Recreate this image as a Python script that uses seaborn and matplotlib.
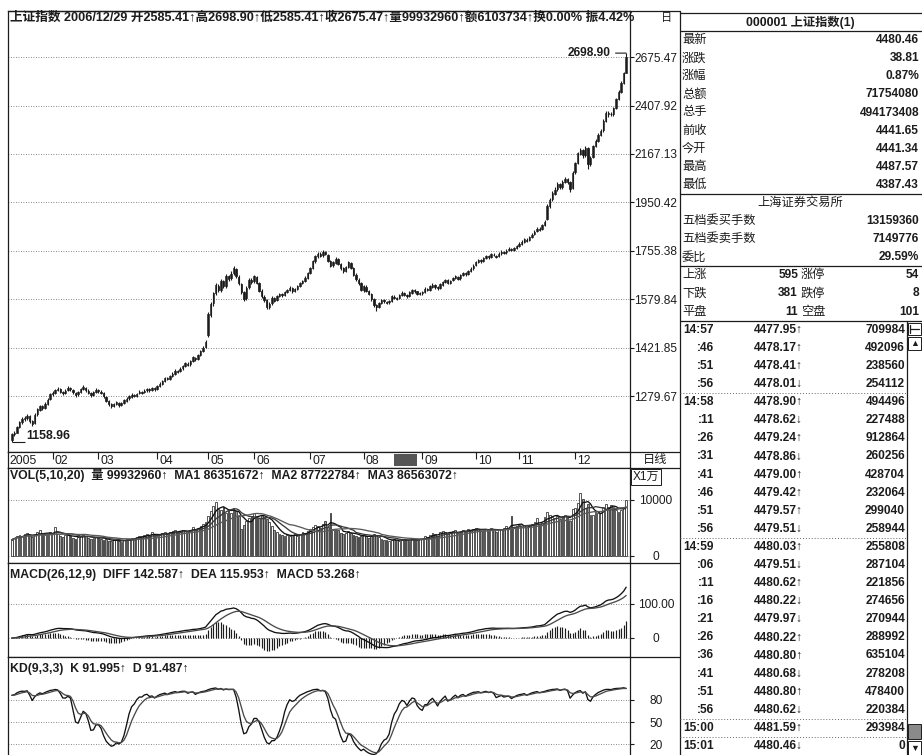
import numpy as np
import pandas as pd
import seaborn as sns
import matplotlib.pyplot as plt
import matplotlib.ticker as mticker
from matplotlib.patches import Rectangle

sns.set_style('white')
plt.rcParams['font.family'] = ['Liberation Sans', 'Noto Sans CJK SC', 'DejaVu Sans']
plt.rcParams['axes.unicode_minus'] = False

# ---------------- data (2006 daily bars) ----------------
month_labels = ['2005', '02', '03', '04', '05', '06', '07', '08', '09', '10', '11', '12']
month_days = [16, 18, 23, 20, 18, 22, 21, 23, 21, 17, 22, 21]

opens = [
    1163, 1178, 1182, 1197, 1209, 1217, 1220, 1225, 1211, 1206, 1230, 1242, 1251, 1247, 1259, 1271,
    1286, 1289, 1297, 1299, 1291, 1288, 1296, 1301, 1297, 1289, 1284, 1292, 1299, 1303, 1295, 1287, 1283, 1292,
    1296, 1292, 1287, 1278, 1265, 1257, 1253, 1258, 1261, 1256, 1261, 1267, 1273, 1278, 1282, 1281, 1287, 1291, 1290, 1296, 1298, 1297, 1301,
    1300, 1309, 1314, 1323, 1330, 1329, 1337, 1343, 1351, 1350, 1359, 1366, 1373, 1371, 1382, 1391, 1387, 1399, 1411, 1423,
    1460, 1528, 1566, 1601, 1626, 1611, 1644, 1626, 1661, 1653, 1671, 1688, 1659, 1634, 1604, 1583, 1621, 1647,
    1642, 1659, 1637, 1609, 1589, 1577, 1554, 1566, 1584, 1576, 1591, 1597, 1594, 1606, 1611, 1619, 1609, 1616, 1626, 1636, 1643, 1656,
    1673, 1691, 1715, 1735, 1744, 1738, 1749, 1741, 1717, 1701, 1711, 1724, 1705, 1689, 1681, 1694, 1711, 1689, 1666, 1649, 1635,
    1612, 1624, 1609, 1597, 1579, 1559, 1554, 1567, 1577, 1571, 1569, 1575, 1589, 1584, 1583, 1594, 1601, 1595, 1591, 1603, 1611, 1607, 1597,
    1602, 1605, 1616, 1613, 1624, 1629, 1621, 1619, 1631, 1641, 1647, 1637, 1646, 1654, 1659, 1653, 1664, 1671, 1669, 1681, 1689,
    1703, 1713, 1719, 1717, 1729, 1734, 1731, 1741, 1737, 1734, 1746, 1751, 1749, 1757, 1761, 1759, 1767,
    1775, 1783, 1791, 1799, 1796, 1809, 1819, 1831, 1841, 1839, 1856, 1880, 1936, 1963, 1988, 2006, 2029, 2016, 2041, 2051, 2037, 2012,
    2082, 2126, 2169, 2184, 2161, 2194, 2121, 2151, 2204, 2231, 2259, 2281, 2329, 2369, 2366, 2363, 2396, 2441, 2481, 2531, 2585.41,
]
highs = [
    1181, 1185, 1199, 1212, 1222, 1226, 1230, 1228, 1215, 1232, 1247, 1256, 1254, 1262, 1274, 1289,
    1294, 1300, 1306, 1303, 1295, 1298, 1307, 1305, 1300, 1292, 1295, 1303, 1310, 1306, 1298, 1291, 1295, 1301,
    1300, 1296, 1290, 1281, 1269, 1261, 1260, 1266, 1264, 1263, 1271, 1276, 1282, 1287, 1285, 1289, 1296, 1295, 1298, 1303, 1301, 1306, 1304,
    1311, 1318, 1326, 1335, 1334, 1339, 1347, 1356, 1355, 1362, 1370, 1379, 1377, 1385, 1397, 1394, 1402, 1414, 1427, 1445,
    1535, 1570, 1606, 1635, 1632, 1650, 1648, 1668, 1666, 1678, 1698, 1692, 1664, 1638, 1610, 1625, 1653, 1655,
    1665, 1663, 1641, 1614, 1595, 1582, 1570, 1590, 1589, 1594, 1603, 1601, 1609, 1616, 1625, 1623, 1619, 1630, 1639, 1647, 1660, 1676,
    1695, 1720, 1740, 1752, 1749, 1757, 1755, 1745, 1722, 1716, 1730, 1729, 1710, 1694, 1699, 1717, 1714, 1693, 1671, 1654, 1640,
    1630, 1628, 1613, 1601, 1584, 1565, 1570, 1582, 1581, 1575, 1578, 1594, 1593, 1588, 1599, 1607, 1605, 1598, 1608, 1616, 1615, 1610, 1605,
    1609, 1621, 1620, 1629, 1635, 1633, 1625, 1636, 1645, 1652, 1650, 1649, 1659, 1664, 1662, 1669, 1677, 1675, 1684, 1693, 1704,
    1718, 1726, 1724, 1733, 1740, 1739, 1747, 1746, 1741, 1750, 1757, 1756, 1761, 1768, 1766, 1771, 1779,
    1788, 1796, 1806, 1804, 1813, 1823, 1836, 1848, 1847, 1861, 1876, 1942, 1971, 1998, 2015, 2038, 2036, 2047, 2060, 2058, 2044, 2086,
    2130, 2178, 2196, 2190, 2205, 2198, 2158, 2212, 2240, 2268, 2290, 2338, 2380, 2378, 2372, 2402, 2448, 2490, 2540, 2592, 2698.90,
]
lows = [
    1158.96, 1172, 1180, 1193, 1204, 1212, 1215, 1208, 1199, 1203, 1226, 1238, 1242, 1244, 1255, 1268,
    1281, 1285, 1293, 1288, 1282, 1285, 1293, 1294, 1286, 1278, 1281, 1289, 1296, 1292, 1284, 1278, 1280, 1288,
    1288, 1284, 1275, 1262, 1252, 1246, 1249, 1255, 1250, 1252, 1258, 1264, 1270, 1275, 1276, 1278, 1284, 1285, 1287, 1292, 1292, 1294, 1295,
    1297, 1305, 1310, 1319, 1324, 1325, 1333, 1340, 1344, 1347, 1355, 1362, 1365, 1367, 1378, 1381, 1383, 1395, 1407, 1420,
    1455, 1520, 1558, 1595, 1604, 1606, 1620, 1620, 1645, 1648, 1665, 1655, 1628, 1598, 1572, 1578, 1616, 1634,
    1636, 1632, 1604, 1584, 1570, 1545, 1548, 1561, 1570, 1572, 1586, 1588, 1590, 1602, 1607, 1603, 1604, 1612, 1622, 1632, 1640, 1651,
    1668, 1686, 1710, 1728, 1731, 1733, 1738, 1714, 1695, 1696, 1707, 1702, 1684, 1674, 1676, 1690, 1686, 1662, 1644, 1630, 1608,
    1606, 1606, 1594, 1575, 1554, 1541, 1550, 1562, 1568, 1563, 1564, 1571, 1580, 1577, 1579, 1590, 1592, 1585, 1587, 1599, 1603, 1594, 1593,
    1596, 1601, 1607, 1609, 1620, 1617, 1613, 1615, 1627, 1636, 1632, 1633, 1642, 1650, 1648, 1649, 1660, 1663, 1665, 1677, 1685,
    1698, 1709, 1711, 1713, 1724, 1726, 1727, 1734, 1729, 1730, 1741, 1744, 1745, 1753, 1754, 1755, 1763,
    1770, 1778, 1787, 1790, 1792, 1805, 1815, 1827, 1832, 1835, 1851, 1875, 1928, 1955, 1980, 2000, 2008, 2010, 2036, 2030, 1996, 2008,
    2075, 2118, 2160, 2150, 2155, 2098, 2110, 2148, 2198, 2225, 2252, 2275, 2322, 2350, 2352, 2356, 2390, 2435, 2475, 2525, 2585.41,
]
closes = [
    1178, 1182, 1197, 1209, 1218, 1220, 1226, 1212, 1205, 1229, 1243, 1252, 1248, 1258, 1270, 1285,
    1289, 1296, 1300, 1292, 1287, 1295, 1302, 1298, 1290, 1283, 1291, 1299, 1304, 1296, 1288, 1282, 1291, 1297,
    1293, 1288, 1279, 1266, 1258, 1252, 1257, 1262, 1255, 1260, 1268, 1272, 1279, 1283, 1280, 1286, 1292, 1289, 1295, 1299, 1296, 1302, 1299,
    1308, 1315, 1322, 1331, 1328, 1336, 1343, 1352, 1349, 1358, 1366, 1374, 1370, 1381, 1392, 1386, 1398, 1410, 1422, 1440,
    1530, 1565, 1600, 1628, 1612, 1645, 1625, 1662, 1652, 1670, 1690, 1660, 1635, 1605, 1582, 1620, 1648, 1641,
    1660, 1638, 1610, 1590, 1578, 1553, 1565, 1585, 1575, 1590, 1598, 1593, 1605, 1612, 1620, 1608, 1615, 1625, 1635, 1642, 1655, 1672,
    1690, 1716, 1734, 1745, 1737, 1750, 1742, 1718, 1700, 1712, 1725, 1706, 1690, 1680, 1695, 1712, 1690, 1667, 1650, 1636, 1613,
    1625, 1610, 1598, 1580, 1560, 1553, 1566, 1578, 1572, 1568, 1574, 1590, 1585, 1582, 1595, 1602, 1596, 1590, 1604, 1612, 1608, 1598, 1601,
    1604, 1617, 1612, 1625, 1630, 1622, 1618, 1632, 1640, 1648, 1636, 1645, 1655, 1660, 1652, 1665, 1672, 1668, 1680, 1688, 1700,
    1712, 1720, 1716, 1728, 1735, 1730, 1742, 1738, 1733, 1745, 1752, 1748, 1756, 1762, 1758, 1766, 1774,
    1782, 1790, 1800, 1795, 1808, 1818, 1830, 1842, 1838, 1855, 1870, 1935, 1962, 1990, 2005, 2030, 2015, 2040, 2052, 2038, 2010, 2080,
    2125, 2170, 2185, 2160, 2195, 2120, 2150, 2205, 2230, 2260, 2280, 2330, 2370, 2365, 2362, 2395, 2440, 2480, 2530, 2585, 2675.47,
]
# volume in units of 1万
volumes = [
    2900, 3300, 3600, 3800, 3500, 3900, 4100, 3700, 3400, 3800, 4200, 4600, 3900, 3700, 4000, 4300,
    4100, 5200, 4000, 3600, 3400, 3700, 3900, 3500, 3300, 3100, 3400, 3600, 3800, 3500, 3200, 3000, 3300, 3400,
    3300, 3100, 2900, 3000, 2700, 2600, 2800, 2900, 2700, 2500, 2800, 3000, 3100, 3300, 3100, 3400, 3600, 3500, 3700, 3900, 3600, 4300, 3800,
    3600, 3800, 4100, 4300, 4000, 4200, 4400, 4600, 4300, 4500, 4700, 4400, 4300, 4700, 5200, 4900, 5000, 5400, 5700, 6100,
    7200, 8000, 9000, 9600, 8400, 8200, 8800, 7600, 8300, 7700, 8600, 8000, 7200, 4800, 5600, 6300, 6700, 7200,
    7600, 7200, 6800, 7400, 7000, 6600, 6000, 5400, 4600, 4200, 3900, 3700, 3600, 3800, 3500, 3700, 3900, 3600, 4000, 4200, 4100, 4500,
    4800, 5200, 5500, 5400, 5000, 5800, 6200, 5200, 7600, 4600, 4900, 4600, 4100, 3900, 4100, 4500, 4100, 3800, 3500, 3400, 3600,
    3700, 3500, 3300, 3600, 3900, 3800, 3400, 3100, 2900, 2800, 2700, 2900, 3000, 2800, 2700, 2900, 3100, 2800, 2700, 3000, 3100, 2900, 3000,
    3100, 3500, 3400, 3800, 4100, 3900, 3600, 4200, 4500, 4300, 3900, 4100, 4400, 4600, 4100, 4300, 4700, 4500, 4800, 4600, 4900,
    5000, 4800, 4400, 4700, 4900, 4500, 5000, 4600, 4300, 4700, 4900, 5000, 5300, 4800, 7200, 5200, 5400,
    5500, 5200, 5600, 5100, 5400, 5800, 6000, 6800, 5600, 5900, 6900, 7800, 7400, 7000, 6800, 7200, 6600, 7100, 7400, 6900, 6300, 8400,
    8600, 9400, 11200, 10200, 8600, 9200, 7400, 7300, 7800, 7700, 7600, 8800, 9200, 8700, 9100, 8829, 8300, 7900, 8200, 8700, 9993,
]
cursor_days = (150, 159)

price_ticks = [1279.67, 1421.85, 1579.84, 1755.38, 1950.42, 2167.13, 2407.92, 2675.47]
vol_ticks = [0, 10000]
macd_ticks = [0, 100]
kd_ticks = [20, 50, 80]

header = '上证指数 2006/12/29 开2585.41↑高2698.90↑低2585.41↑收2675.47↑量99932960↑额6103734↑换0.00% 振4.42%'
vol_title = 'VOL(5,10,20)  量 99932960↑  MA1 86351672↑  MA2 87722784↑  MA3 86563072↑'
macd_title = 'MACD(26,12,9)  DIFF 142.587↑  DEA 115.953↑  MACD 53.268↑'
kd_title = 'KD(9,3,3)  K 91.995↑  D 91.487↑'

quote_name = '000001 上证指数(1)'
quote_labels = ['最新', '涨跌', '涨幅', '总额', '总手', '前收', '今开', '最高', '最低']
quote_values = ['4480.46', '38.81', '0.87%', '71754080', '494173408', '4441.65', '4441.34', '4487.57', '4387.43']
exchange = '上海证券交易所'
order_labels = ['五档委买手数', '五档委卖手数', '委比']
order_values = ['13159360', '7149776', '29.59%']
breadth_labels = ['上涨', '下跌', '平盘']
breadth_counts = ['595', '381', '11']
limit_labels = ['涨停', '跌停', '空盘']
limit_counts = ['54', '8', '101']
tick_times = ['14:57', ':46', ':51', ':56', '14:58', ':11', ':26', ':31', ':41', ':46', ':51', ':56',
              '14:59', ':06', ':11', ':16', ':21', ':26', ':36', ':41', ':51', ':56', '15:00', '15:01']
tick_prices = ['4477.95↑', '4478.17↑', '4478.41↑', '4478.01↓', '4478.90↑', '4478.62↓', '4479.24↑', '4478.86↓',
               '4479.00↑', '4479.42↑', '4479.57↑', '4479.51↓', '4480.03↑', '4479.51↓', '4480.62↑', '4480.22↓',
               '4479.97↓', '4480.22↑', '4480.80↑', '4480.68↓', '4480.80↑', '4480.62↓', '4481.59↑', '4480.46↓']
tick_vols = ['709984', '492096', '238560', '254112', '494496', '227488', '912864', '260256', '428704', '232064',
             '299040', '258944', '255808', '287104', '221856', '274656', '270944', '288992', '635104', '278208',
             '478400', '220384', '293984', '0']

# ---------------- indicators ----------------
df = pd.DataFrame({'open': opens, 'high': highs, 'low': lows, 'close': closes, 'vol': volumes})
df['day'] = np.arange(len(df))
up = df['close'] >= df['open']

for n, col in ((5, 'ma1'), (10, 'ma2'), (20, 'ma3')):
    df[col] = df['vol'].rolling(n, min_periods=1).mean()

ema12 = df['close'].ewm(span=12, adjust=False).mean()
ema26 = df['close'].ewm(span=26, adjust=False).mean()
df['diff'] = ema12 - ema26
df['dea'] = df['diff'].ewm(span=9, adjust=False).mean()
df['macd'] = 2 * (df['diff'] - df['dea'])

llv = df['low'].rolling(9, min_periods=1).min()
hhv = df['high'].rolling(9, min_periods=1).max()
rsv = (df['close'] - llv) / (hhv - llv) * 100
df['k'] = rsv.ewm(alpha=1 / 3, adjust=False).mean()
df['d'] = df['k'].ewm(alpha=1 / 3, adjust=False).mean()

# ---------------- layout (pixel boxes) ----------------
W, H = 922, 755
INK = '#1c1c1c'
fig = plt.figure(figsize=(W / 100, H / 100), dpi=100)


def panel(x0, y0, x1, y1, **kw):
    return fig.add_axes([x0 / W, 1 - y1 / H, (x1 - x0) / W, (y1 - y0) / H], **kw)


L, R, COL = 8, 630, 680
ax_p = panel(L, 11, R, 452)
ax_d = panel(L, 452, R, 468, sharex=ax_p)
ax_v = panel(L, 468, R, 563, sharex=ax_p)
ax_m = panel(L, 563, R, 657, sharex=ax_p)
ax_k = panel(L, 657, R, 770, sharex=ax_p)


def style(ax, ticks=None, labels=None):
    for s in ax.spines.values():
        s.set_color(INK)
        s.set_linewidth(0.9)
    ax.tick_params(axis='x', bottom=False, labelbottom=False)
    ax.set_xlabel('')
    ax.set_ylabel('')
    if ticks is None:
        ax.set_yticks([])
        return
    ax.yaxis.tick_right()
    ax.set_yticks(ticks)
    ax.set_yticklabels(labels)
    ax.yaxis.set_minor_locator(mticker.NullLocator())
    ax.tick_params(axis='y', which='major', direction='out', length=3, width=0.8,
                   color=INK, labelsize=8.6, labelcolor=INK, pad=15.6)
    plt.setp(ax.get_yticklabels(), ha='center')
    ax.grid(True, axis='y', ls=(0, (1, 2)), color='#606060', lw=0.6)
    ax.grid(False, axis='x')


# price candles (thin bodies so each day reads as its own tick, like the print)
ax_p.set_yscale('log')
ax_p.vlines(df['day'], df['low'], df['high'], color=INK, lw=0.8)
body_lo = np.minimum(df['open'], df['close'])
body_h = np.maximum((df['close'] - df['open']).abs(), 0.6)
ax_p.bar(df['day'][up], body_h[up], bottom=body_lo[up], width=0.55,
         facecolor='white', edgecolor=INK, lw=0.55)
ax_p.bar(df['day'][~up], body_h[~up], bottom=body_lo[~up], width=0.55,
         facecolor=INK, edgecolor=INK, lw=0.55)
ax_p.set_ylim(1132.9, 2958)
style(ax_p, price_ticks, [f'{v:.2f}' for v in price_ticks])

i_hi = df['high'].idxmax()
ax_p.annotate(f"{df['high'][i_hi]:.2f}", xy=(i_hi, df['high'][i_hi]), xytext=(-11, 0),
              textcoords='offset points', ha='right', va='center', fontsize=8.6,
              fontweight='bold', color=INK,
              arrowprops=dict(arrowstyle='-', color=INK, lw=0.8, shrinkA=1, shrinkB=0))
i_lo = df['low'].idxmin()
ax_p.hlines(df['low'][i_lo], i_lo, i_lo + 5, color=INK, lw=0.8)
ax_p.text(i_lo + 5.6, df['low'][i_lo], f"{df['low'][i_lo]:.2f}", ha='left', va='bottom',
          fontsize=8.8, fontweight='bold', color=INK)

# date row
month_start = np.cumsum([0] + month_days[:-1])
ax_d.set_ylim(0, 1)
style(ax_d)
for i, (s, lab) in enumerate(zip(month_start, month_labels)):
    if i == 0:
        ax_d.text(s - 1.0, 0.45, lab, ha='left', va='center', fontsize=8.8, color=INK)
    else:
        ax_d.vlines(s, 0.55, 1.0, color=INK, lw=0.8)
        ax_d.text(s + 0.9, 0.45, lab, ha='left', va='center', fontsize=8.8, color=INK)
ax_d.axvspan(cursor_days[0], cursor_days[1], ymin=0.12, ymax=0.88, color='#555555', lw=0)

# volume: hollow bars give the striped look of the print
ax_v.bar(df['day'][up], df['vol'][up], width=0.7, facecolor='white', edgecolor='#2a2a2a', lw=0.55)
ax_v.bar(df['day'][~up], df['vol'][~up], width=0.7, facecolor='#9a9a9a', edgecolor='#2a2a2a', lw=0.55)
for col, c in (('ma1', '#111111'), ('ma2', '#3a3a3a'), ('ma3', '#5a5a5a')):
    sns.lineplot(data=df, x='day', y=col, ax=ax_v, color=c, lw=0.95, legend=False)
ax_v.set_ylim(-1250, 15714)
style(ax_v, vol_ticks, ['0', '10000'])

# MACD
ax_m.vlines(df['day'], 0, df['macd'], color=INK, lw=0.85)
sns.lineplot(data=df, x='day', y='diff', ax=ax_m, color='#111111', lw=0.95, legend=False)
sns.lineplot(data=df, x='day', y='dea', ax=ax_m, color='#4a4a4a', lw=0.95, legend=False)
ax_m.set_ylim(-55.9, 220.6)
style(ax_m, macd_ticks, ['0', '100.00'])

# KD
sns.lineplot(data=df, x='day', y='k', ax=ax_k, color='#111111', lw=0.95, legend=False)
sns.lineplot(data=df, x='day', y='d', ax=ax_k, color='#4a4a4a', lw=0.95, legend=False)
ax_k.set_ylim(-15.4, 138.6)
style(ax_k, kd_ticks, ['20', '50', '80'])

ax_p.set_xlim(-1.5, len(df) + 0.5)

# ---------------- overlay: frame, titles, quote panel ----------------
ov = fig.add_axes([0, 0, 1, 1], zorder=5)
ov.set_xlim(0, W)
ov.set_ylim(H, 0)
ov.axis('off')
ov.patch.set_alpha(0)
lk = dict(color=INK, lw=0.9)
ov.plot([L, COL], [11, 11], **lk)
ov.plot([COL, COL], [11, H], **lk)
for y in (452, 468, 563, 657):
    ov.plot([R, COL], [y, y], **lk)

bold = dict(fontweight='bold', color=INK, va='center')
renderer = fig.canvas.get_renderer()


def fitted(x, y, txt, width, size=8.5):
    t = ov.text(x, y, txt, fontsize=size, **bold)
    w = t.get_window_extent(renderer).width
    t.set_fontsize(size * width / w)
    return t.get_fontsize()


fitted(10, 18, header, 618)
title_size = fitted(10, 476, vol_title, 445)
ov.text(10, 575, macd_title, fontsize=title_size, **bold)
ov.text(10, 669, kd_title, fontsize=title_size, **bold)
ov.text(667, 18, '日', fontsize=8, ha='center', va='center', color=INK)
ov.text(655, 460, '日线', fontsize=8.8, ha='center', va='center', color=INK)
ov.text(646, 477, 'X1万', fontsize=8.6, ha='center', va='center', color=INK,
        bbox=dict(boxstyle='square,pad=0.15', fc='white', ec=INK, lw=0.7))

RP1 = 922


def ry(r):
    return 22 + 18.1 * r


for y in (13, 31, 194, 266, 321):
    ov.plot([COL, RP1], [y, y], **lk)
for y in (393, 538, 719, 737):
    ov.plot([COL, 907], [y, y], color='#666666', lw=0.7, ls=(0, (1, 2)))

reg = dict(fontsize=8.8, color=INK, va='center')
ov.text(800, ry(0), quote_name, ha='center', fontsize=8.8, **bold)
for i, (lab, val) in enumerate(zip(quote_labels, quote_values)):
    ov.text(682, ry(1 + i), lab, ha='left', **reg)
    ov.text(919, ry(1 + i), val, ha='right', fontsize=8.6, **bold)
ov.text(800, ry(10), exchange, ha='center', **reg)
for i, (lab, val) in enumerate(zip(order_labels, order_values)):
    ov.text(682, ry(11 + i), lab, ha='left', **reg)
    ov.text(919, ry(11 + i), val, ha='right', fontsize=8.6, **bold)
for i in range(3):
    ov.text(682, ry(14 + i), breadth_labels[i], ha='left', **reg)
    ov.text(798, ry(14 + i), breadth_counts[i], ha='right', fontsize=8.6, **bold)
    ov.text(801, ry(14 + i), limit_labels[i], ha='left', **reg)
    ov.text(919, ry(14 + i), limit_counts[i], ha='right', fontsize=8.6, **bold)
for i, (t, p, v) in enumerate(zip(tick_times, tick_prices, tick_vols)):
    ov.text(714, ry(17 + i), t, ha='right', fontsize=8.6, **bold)
    ov.text(803, ry(17 + i), p, ha='right', fontsize=8.6, **bold)
    ov.text(905, ry(17 + i), v, ha='right', fontsize=8.6, **bold)

# scrollbar
ov.plot([907, 907], [321, H], **lk)
ov.add_patch(Rectangle((908, 323), 13, 12, fc='white', ec=INK, lw=0.7))
ov.plot([910, 919], [329, 329], color=INK, lw=0.9)
ov.plot([910, 910], [325, 333], color=INK, lw=0.9)
ov.add_patch(Rectangle((908, 337), 13, 13, fc='white', ec=INK, lw=0.7))
ov.text(914.5, 343.5, '▲', ha='center', va='center', fontsize=6.5, color=INK)
ov.add_patch(Rectangle((908, 724), 13, 15, fc='#8a8a8a', ec=INK, lw=0.7))
ov.add_patch(Rectangle((908, 741), 13, 14, fc='white', ec=INK, lw=0.7))
ov.text(914.5, 748, '▼', ha='center', va='center', fontsize=6.5, color=INK)

fig.savefig('out.png', dpi=100)
